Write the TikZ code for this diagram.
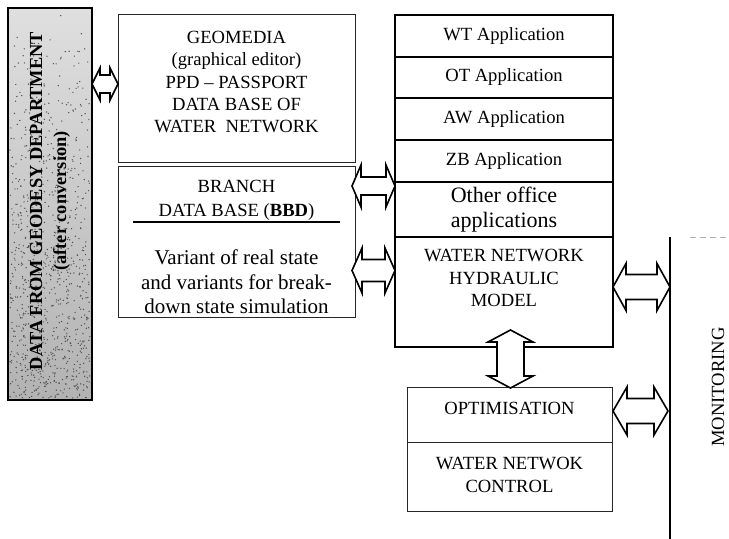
\documentclass[tikz,border=0pt]{standalone}
\usepackage{fontspec}
\setmainfont{Liberation Serif}
\usetikzlibrary{calc, positioning}

\tikzset{
  % hollow two-headed block arrow: length, head length, half shaft, half head
  pics/dblarrow/.style n args={4}{code={
    \draw[line width=0.8pt, fill=white, line join=miter]
      (-#1/2,0) -- ++(#2,#4) -- ++(0,#3-#4) -- (#1/2-#2,#3) -- ++(0,#4-#3) -- (#1/2,0)
      -- ++(-#2,-#4) -- ++(0,#4-#3) -- (-#1/2+#2,-#3) -- ++(0,#3-#4) -- cycle;
  }}
}

\begin{document}
\begin{tikzpicture}[x=0.5pt, y=-0.5pt,
    box/.style={draw=black!85, line width=0.5pt, inner sep=0pt, outer sep=0pt, anchor=north west},
    appbox/.style={draw, line width=0.9pt, inner sep=0pt, outer sep=0pt, minimum width=109pt,
      font=\fontsize{9.3}{11.2}\selectfont},
    txt/.style={align=center, inner sep=0pt, font=\fontsize{9.3}{11.2}\selectfont}]
    \useasboundingbox (0,0) rectangle (729,539);

    % grey input column on the left
    \node[box, draw=black, line width=1.4pt, top color=gray!25, bottom color=gray!60,
      minimum width=42pt, minimum height=196pt] (geodesy) at (8,8) {};
    \pgfmathsetseed{7}
    \foreach \i in {1,...,900}
      \fill[black!70] ({10+80*rnd}, {10+388*sqrt(rnd)}) circle (0.35pt);
    \node[txt, rotate=90, font=\fontsize{9.2}{12}\selectfont\bfseries] (geodesytext) at (50,201)
      {DATA FROM GEODESY DEPARTMENT\\(after conversion)};

    % data bases
    \node[box, minimum width=118.5pt, minimum height=74pt] (geo) at (118,15) {};
    \node[txt] (geotext) at (236.5,82) {GEOMEDIA\\(graphical editor)\\PPD -- PASSPORT\\DATA BASE OF\\WATER\ \ NETWORK};
    \node[box, minimum width=118.5pt, minimum height=75.5pt] (bbd) at (118,167) {};
    \node[txt, font=\fontsize{9.3}{12}\selectfont] (bbdtext) at (236.5,200) {BRANCH\\DATA BASE (\textbf{BBD})};
    \draw[line width=0.9pt] (133,222) -- (340,222);
    \node[txt, font=\fontsize{10.5}{12.2}\selectfont] (varianttext) at (236.5,282)
      {Variant of real state\\and variants for break-\\down state simulation};

    % applications column
    \node[appbox, minimum height=21pt, anchor=north west] (wt) at (395,15) {WT Application};
    \node[appbox, minimum height=20.5pt, below=0pt of wt] (ot) {OT Application};
    \node[appbox, minimum height=21pt, below=0pt of ot] (aw) {AW Application};
    \node[appbox, minimum height=21pt, below=0pt of aw] (zb) {ZB Application};
    \node[appbox, minimum height=27.5pt, below=0pt of zb, align=center,
      font=\fontsize{11}{12.5}\selectfont] (office) {Other office\\applications};
    \node[appbox, minimum height=55pt, below=0pt of office] (hyd) {};
    \node[txt] (hydtext) at (504,278) {WATER NETWORK\\HYDRAULIC\\MODEL};

    % optimisation and control
    \node[box, minimum width=102.5pt, minimum height=27.5pt] (opt) at (407,388) {};
    \node[txt] (opttext) at (509.5,408) {OPTIMISATION};
    \node[box, minimum width=102.5pt, minimum height=34.5pt] (ctrl) at (407,443) {};
    \node[txt] (ctrltext) at (509.5,475) {WATER NETWOK\\CONTROL};

    % monitoring
    \coordinate (montop) at (670,237);
    \coordinate (monbot) at (670,539);
    \draw[line width=0.8pt] (montop) -- (monbot);
    \draw[gray!60, densely dashed, line width=0.4pt] (690,237) -- (729,237);
    \node[txt, rotate=90] (montext) at (718,387) {MONITORING};

    % double arrows between the blocks
    \pic at (105,84) {dblarrow={26}{8}{9}{16}};
    \pic at (373.5,186) {dblarrow={43}{9}{9}{21}};
    \pic at (373.5,270.5) {dblarrow={43}{10}{11}{22.5}};
    \pic at (641.5,287) {dblarrow={57}{13}{12.5}{23.5}};
    \pic[rotate=90] at (510.5,359) {dblarrow={58}{12}{13.5}{22.5}};
    \pic at (640.5,411) {dblarrow={55}{14}{12.5}{24}};
\end{tikzpicture}
\end{document}
